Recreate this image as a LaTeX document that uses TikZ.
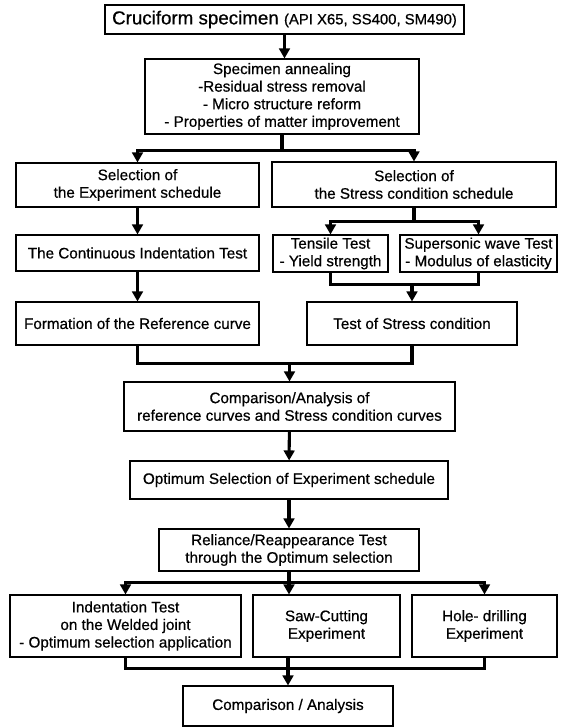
\documentclass[tikz,border=0pt]{standalone}
\usepackage{fontspec}
\setmainfont{Liberation Sans}[FakeBold=0.6]
\usepackage{tikz}
\usetikzlibrary{arrows.meta,positioning}

\begin{document}
\begin{tikzpicture}[
  box/.style={rectangle, draw, line width=0.9pt, align=center, inner xsep=2pt, inner ysep=1pt, font=\fontsize{13}{15}\selectfont},
  link/.style={line width=2.6pt},
  flow/.style={line width=2.6pt, -{Triangle[length=0.3cm, width=0.32cm]}}
]
\useasboundingbox (0,0) rectangle (16.98,21.84);

% Top of the chart
\node[box, minimum width=10.77cm, minimum height=0.87cm] (spec) at (8.535,21.255) {\fontsize{16}{18}\selectfont Cruciform specimen {\fontsize{12.7}{14}\selectfont (API X65, SS400, SM490)}};
\node[box, minimum width=8.22cm, minimum height=2.25cm] (anneal) at (8.46,18.945) {Specimen annealing\\-Residual stress removal\\- Micro structure reform\\- Properties of matter improvement};

% Left and right schedules
\node[box, minimum width=7.29cm, minimum height=1.32cm] (selexp) at (4.125,16.29) {Selection of\\the Experiment schedule};
\node[box, minimum width=8.52cm, minimum height=1.35cm] (selstr) at (12.42,16.305) {Selection of\\the Stress condition schedule};
\node[box, minimum width=7.29cm, minimum height=1.08cm] (cit) at (4.125,14.25) {The Continuous Indentation Test};
\node[box, minimum width=3.45cm, minimum height=1.11cm, inner xsep=1pt] (tensile) at (9.915,14.235) {Tensile Test\\- Yield strength};
\node[box, minimum width=4.71cm, minimum height=1.11cm, inner xsep=1pt] (super) at (14.355,14.235) {Supersonic wave Test\\- Modulus of elasticity};
\node[box, minimum width=7.29cm, minimum height=1.29cm] (refcurve) at (4.125,12.135) {Formation of the Reference curve};
\node[box, minimum width=6.30cm, minimum height=1.29cm] (stresstest) at (12.36,12.135) {Test of Stress condition};

% Middle part
\node[box, minimum width=9.93cm, minimum height=1.47cm] (compare) at (8.685,9.645) {Comparison/Analysis of\\reference curves and Stress condition curves};
\node[box, minimum width=9.54cm, minimum height=1.14cm] (optimum) at (8.67,7.44) {Optimum Selection of Experiment schedule};
\node[box, minimum width=7.80cm, minimum height=1.26cm] (reliance) at (8.67,5.34) {Reliance/Reappearance Test\\through the Optimum selection};

% Three experiments
\node[box, minimum width=6.93cm, minimum height=1.86cm, inner xsep=1pt] (indent) at (3.765,3.06) {Indentation Test\\on the Welded joint\\- Optimum selection application};
\node[box, minimum width=4.41cm, minimum height=1.86cm] (saw) at (9.795,3.06) {Saw-Cutting\\Experiment};
\node[box, minimum width=4.35cm, minimum height=1.86cm] (hole) at (14.535,3.06) {Hole- drilling\\Experiment};
\node[box, minimum width=6.30cm, minimum height=1.20cm] (final) at (8.64,0.66) {Comparison / Analysis};

% Branch and merge points
\coordinate[below=0.48cm of anneal.south] (b1);
\coordinate[below=0.42cm of selstr.south] (b2);
\coordinate[above=0.51cm of stresstest.north] (m2);
\coordinate[above=0.54cm of compare.north] (m3);
\coordinate[below=0.33cm of reliance.south] (b4);
\coordinate[above=0.51cm of final.north] (m5);

% Connectors
\draw[flow] (spec.south) -- (spec.south |- anneal.north);
\draw[link] (anneal.south) -- (b1);
\draw[flow] (b1) -| (selexp.north);
\draw[flow] (b1) -| (selstr.north);
\draw[flow] (selexp) -- (cit);
\draw[flow] (cit) -- (refcurve);
\draw[link] (selstr.south) -- (b2);
\draw[flow] (b2) -| (tensile.north);
\draw[flow] (b2) -| (super.north);
\draw[link] (tensile.south) |- (m2) -| (super.south);
\draw[flow] (m2) -- (stresstest.north);
\draw[link] (refcurve.south) |- (m3) -| (stresstest.south);
\draw[flow] (m3) -- (compare.north);
\draw[flow] (compare) -- (optimum);
\draw[flow] (optimum) -- (reliance);
\draw[link] (reliance.south) -- (b4);
\draw[flow] (b4) -| (indent.north);
\draw[flow] (b4) -| (hole.north);
\draw[flow] (b4) -- (b4 |- saw.north);
\draw[link] (indent.south) |- (m5) -| (hole.south);
\draw[link] (m5 |- saw.south) -- (m5);
\draw[flow] (m5) -- (final.north);
\end{tikzpicture}
\end{document}
